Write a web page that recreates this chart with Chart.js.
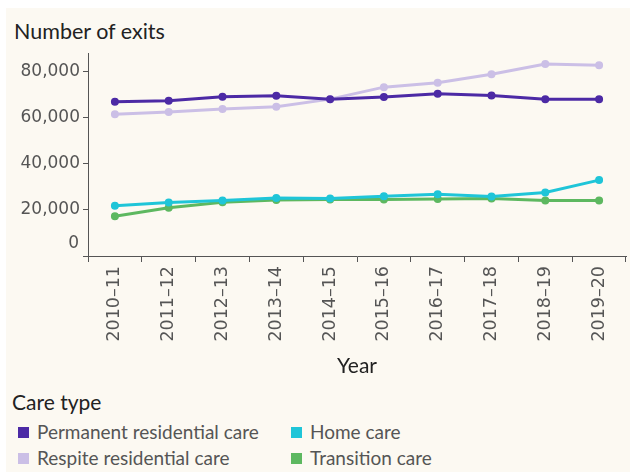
<!DOCTYPE html>
<html>
<head>
<meta charset="utf-8">
<script src="https://cdn.jsdelivr.net/npm/chart.js@4.4.1/dist/chart.umd.min.js"></script>
<style>
  html, body { margin: 0; padding: 0; background: #fff; }
  #frame { position: absolute; left: 6px; top: 8px; width: 624px; height: 464px; background: #fcf9f2; }
  #wrap { position: absolute; left: 0; top: 0; width: 633px; height: 383px; }
  #title { position: absolute; left: 14px; top: 18px; font: 21.5px Lato, sans-serif; color: #222; }
  #legendTitle { position: absolute; left: 12px; top: 389px; font: 21px Lato, sans-serif; color: #222; }
  .item { position: absolute; font: 19px Lato, sans-serif; color: #555; line-height: 20px; }
  .item span { display: inline-block; width: 11px; height: 11px; margin-right: 8px; vertical-align: 1px; }
</style>
</head>
<body>
<div id="frame"></div>
<div id="title">Number of exits</div>
<div id="wrap"><canvas id="myChart"></canvas></div>
<div id="legendTitle">Care type</div>
<div id="legend"></div>
<script>
// 데이터
const years = ['2010–11', '2011–12', '2012–13', '2013–14', '2014–15', '2015–16', '2016–17', '2017–18', '2018–19', '2019–20'];
const permanent = [66900, 67300, 69000, 69500, 67900, 68900, 70300, 69600, 68000, 68000];
const respite = [61400, 62400, 63700, 64700, 68000, 73200, 75100, 78800, 83200, 82700];
const homeCare = [21800, 23200, 24100, 25100, 24900, 25900, 26800, 25800, 27500, 32900];
const transition = [17200, 20900, 23300, 24300, 24500, 24500, 24700, 24900, 24100, 24100];
const yTicks = [0, 20000, 40000, 60000, 80000];

const seriesNames = ['Permanent residential care', 'Respite residential care', 'Home care', 'Transition care'];
const seriesColors = ['#4c2aa5', '#cbbfe6', '#1fc5d8', '#5db860'];
const seriesData = [permanent, respite, homeCare, transition];

// 범례
const legendPos = [[18, 422], [18, 448], [291, 422], [291, 448]];
const legend = document.getElementById('legend');
seriesNames.forEach((name, i) => {
    const d = document.createElement('div');
    d.className = 'item';
    d.style.left = legendPos[i][0] + 'px';
    d.style.top = legendPos[i][1] + 'px';
    d.innerHTML = '<span style="background:' + seriesColors[i] + '"></span>' + name;
    legend.appendChild(d);
});

// 0 라벨은 축보다 조금 위에 그림
const zeroLabel = {
    id: 'zeroLabel',
    afterDraw(chart) {
        const y = chart.scales.y;
        const ctx = chart.ctx;
        ctx.save();
        ctx.font = '17px "DejaVu Sans"';
        ctx.fillStyle = '#555';
        ctx.textAlign = 'right';
        ctx.textBaseline = 'middle';
        ctx.fillText('0', y.right - 9, y.getPixelForValue(0) - 12);
        ctx.restore();
    }
};

const ctx = document.getElementById('myChart').getContext('2d');
new Chart(ctx, {
    type: 'line',
    data: {
        labels: years,
        datasets: seriesData.map((d, i) => ({
            label: seriesNames[i],
            data: d,
            borderColor: seriesColors[i],
            backgroundColor: seriesColors[i],
            borderWidth: 3,
            pointRadius: 2.5,
            pointHoverRadius: 2.5,
            tension: 0,
            fill: false
        }))
    },
    options: {
        responsive: true,
        maintainAspectRatio: false,
        animation: false,
        layout: { padding: { left: 0, right: 7, top: 53, bottom: 0 } },
        plugins: { legend: { display: false }, tooltip: { enabled: false } },
        scales: {
            x: {
                offset: true,
                grid: { offset: true, drawOnChartArea: false, color: '#555', tickLength: 6 },
                border: { color: '#555', width: 1 },
                ticks: {
                    minRotation: 90, maxRotation: 90, padding: 4,
                    color: '#555', font: { family: 'DejaVu Sans', size: 17.5 }
                },
                title: {
                    display: true, text: 'Year', color: '#222',
                    font: { family: 'Lato', size: 21 }, padding: { top: 4, bottom: 4 }
                },
                afterFit: s => { s.height = 127; }
            },
            y: {
                min: 0, max: 88000,
                grid: { drawOnChartArea: false, color: '#555', tickLength: 5 },
                border: { color: '#555', width: 1 },
                ticks: {
                    padding: 3, color: '#555', font: { family: 'DejaVu Sans', size: 17 },
                    callback: v => v === 0 ? '' : v.toLocaleString('en-US')
                },
                afterBuildTicks: s => { s.ticks = yTicks.map(v => ({ value: v })); },
                afterFit: s => { s.width = 88; }
            }
        }
    },
    plugins: [zeroLabel]
});
</script>
</body>
</html>
